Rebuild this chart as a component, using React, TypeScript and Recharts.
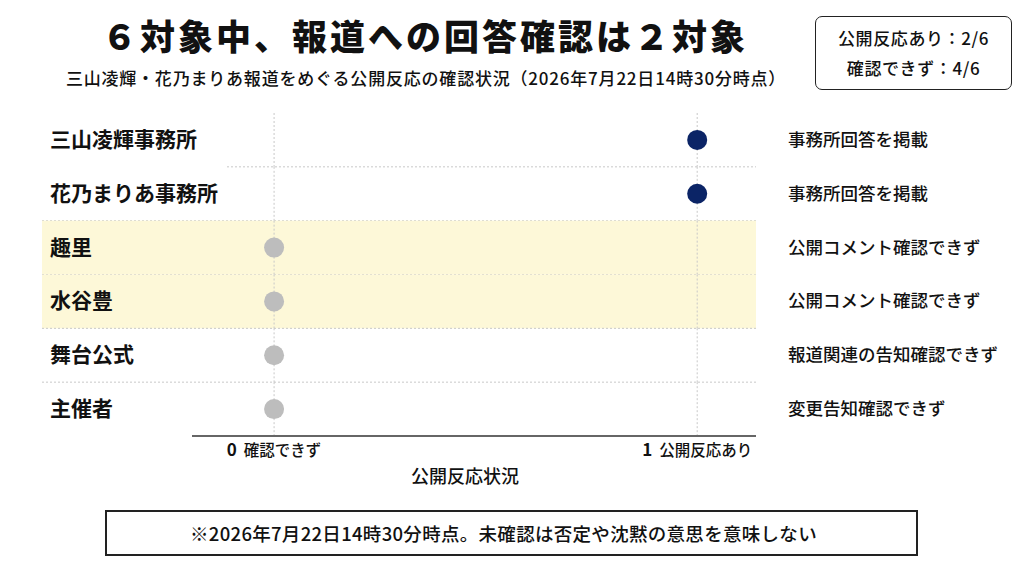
import React from 'react';
import {
  ScatterChart,
  Scatter,
  XAxis,
  YAxis,
  ReferenceArea,
} from 'recharts';

const entities = ['三山凌輝事務所', '花乃まりあ事務所', '趣里', '水谷豊', '舞台公式', '主催者'];
const responses = [1, 1, 0, 0, 0, 0];
const notes = [
  '事務所回答を掲載',
  '事務所回答を掲載',
  '公開コメント確認できず',
  '公開コメント確認できず',
  '報道関連の告知確認できず',
  '変更告知確認できず',
];
const highlighted = ['趣里', '水谷豊'];
const xTicks = [0, 1];
const xTickLabels = ['確認できず', '公開反応あり'];

const W = 1024;
const H = 576;
const FONT = '"Noto Sans CJK JP", "Noto Sans", sans-serif';
const BAND_LEFT = 42;
const PLOT_LEFT = 192;
const PLOT_RIGHT = 756;
const PLOT_TOP = 113;
const PLOT_BOTTOM = 436;
const XAXIS_H = 30;
const NAVY = '#0b2466';
const GREY = '#bdbdbd';
const GRID = '#c8c8c8';

const data = entities.map((name, i) => ({ name, response: responses[i], note: notes[i] }));

function EntityTick({ y, payload }: any) {
  const note = notes[payload.index] ?? '';
  return (
    <g>
      <text x={BAND_LEFT + 8} y={y} dy={7} fontSize={21} fontWeight={700} fill="#111" fontFamily={FONT}>
        {payload.value}
      </text>
      <text x={PLOT_RIGHT + 32} y={y} dy={6} fontSize={17.5} fontWeight={500} fill="#111" fontFamily={FONT}>
        {note}
      </text>
    </g>
  );
}

function StatusTick({ x, y, payload }: any) {
  const idx = xTicks.indexOf(payload.value);
  return (
    <text x={x} y={y} dy={12} textAnchor="middle" fontFamily={FONT} fill="#111">
      <tspan fontSize={17} fontWeight={700}>{payload.value}</tspan>
      <tspan fontSize={15.5} fontWeight={500} dx={7}>{xTickLabels[idx]}</tspan>
    </text>
  );
}

function RowShape(isBand: boolean, isFirst: boolean, isLast: boolean) {
  return (p: any) => {
    const { x, y, width, height } = p;
    return (
      <g>
        {isBand && (
          <rect x={BAND_LEFT} y={y} width={PLOT_RIGHT - BAND_LEFT} height={height} fill="#fdf8d8" />
        )}
        <line x1={x} x2={x} y1={y} y2={y + height} stroke={GRID} strokeDasharray="2 2" />
        <line x1={x + width} x2={x + width} y1={y} y2={y + height} stroke={GRID} strokeDasharray="2 2" />
        {!isLast && (
          <line
            x1={isFirst ? PLOT_LEFT + 35 : BAND_LEFT}
            x2={PLOT_RIGHT}
            y1={y + height}
            y2={y + height}
            stroke={GRID}
            strokeDasharray="2 2"
          />
        )}
      </g>
    );
  };
}

export default function App() {
  return (
    <div
      style={{
        position: 'absolute',
        left: 0,
        top: 0,
        width: W,
        height: H,
        background: '#fff',
        fontFamily: FONT,
        color: '#111',
        overflow: 'hidden',
      }}
    >
      <div
        style={{
          position: 'absolute',
          left: 0,
          width: 850,
          top: 10,
          textAlign: 'center',
          fontSize: 35,
          fontWeight: 900,
          letterSpacing: 3,
          lineHeight: '50px',
        }}
      >
        ６対象中、報道への回答確認は２対象
      </div>
      <div
        style={{
          position: 'absolute',
          left: 0,
          width: 852,
          top: 66,
          textAlign: 'center',
          fontSize: 17,
          fontWeight: 500,
          letterSpacing: 0.8,
          lineHeight: '24px',
        }}
      >
        三山凌輝・花乃まりあ報道をめぐる公開反応の確認状況（2026年7月22日14時30分時点）
      </div>
      <div
        style={{
          position: 'absolute',
          left: 815,
          top: 16,
          width: 197,
          height: 74,
          boxSizing: 'border-box',
          border: '1.5px solid #222',
          borderRadius: 7,
          textAlign: 'center',
          fontSize: 17,
          fontWeight: 500,
          letterSpacing: 0.6,
          lineHeight: '30px',
          paddingTop: 6,
        }}
      >
        <div>公開反応あり：2/6</div>
        <div>確認できず：4/6</div>
      </div>

      <div style={{ position: 'absolute', left: 0, top: 0 }}>
        <ScatterChart
          width={W}
          height={H}
          margin={{
            top: PLOT_TOP,
            right: W - PLOT_RIGHT,
            left: BAND_LEFT,
            bottom: H - PLOT_BOTTOM - XAXIS_H,
          }}
        >
          {entities.map((name, i) => (
            <ReferenceArea
              key={name}
              x1={0}
              x2={1}
              y1={name}
              y2={name}
              shape={RowShape(highlighted.includes(name), i === 0, i === entities.length - 1)}
            />
          ))}
          <XAxis
            type="number"
            dataKey="response"
            domain={[-0.194, 1.139]}
            ticks={xTicks}
            tick={<StatusTick />}
            tickLine={false}
            axisLine={{ stroke: '#666', strokeWidth: 2 }}
            height={XAXIS_H}
            allowDataOverflow
            label={{
              value: '公開反応状況',
              position: 'bottom',
              offset: 4,
              dx: -9,
              fontSize: 18,
              fontWeight: 500,
              fill: '#111',
              fontFamily: FONT,
            }}
          />
          <YAxis
            type="category"
            dataKey="name"
            reversed
            width={PLOT_LEFT - BAND_LEFT}
            tick={<EntityTick />}
            tickLine={false}
            axisLine={false}
            interval={0}
          />
          <Scatter
            data={data}
            isAnimationActive={false}
            shape={(p: any) => (
              <circle cx={p.cx} cy={p.cy} r={10} fill={p.payload.response ? NAVY : GREY} />
            )}
          />
        </ScatterChart>
      </div>

      <div
        style={{
          position: 'absolute',
          left: 105,
          top: 510,
          width: 813,
          height: 46,
          boxSizing: 'border-box',
          border: '2px solid #222',
          textAlign: 'center',
          fontSize: 18.5,
          fontWeight: 500,
          letterSpacing: 0.3,
          lineHeight: '42px',
          paddingRight: 16,
        }}
      >
        ※2026年7月22日14時30分時点。未確認は否定や沈黙の意思を意味しない
      </div>
    </div>
  );
}
